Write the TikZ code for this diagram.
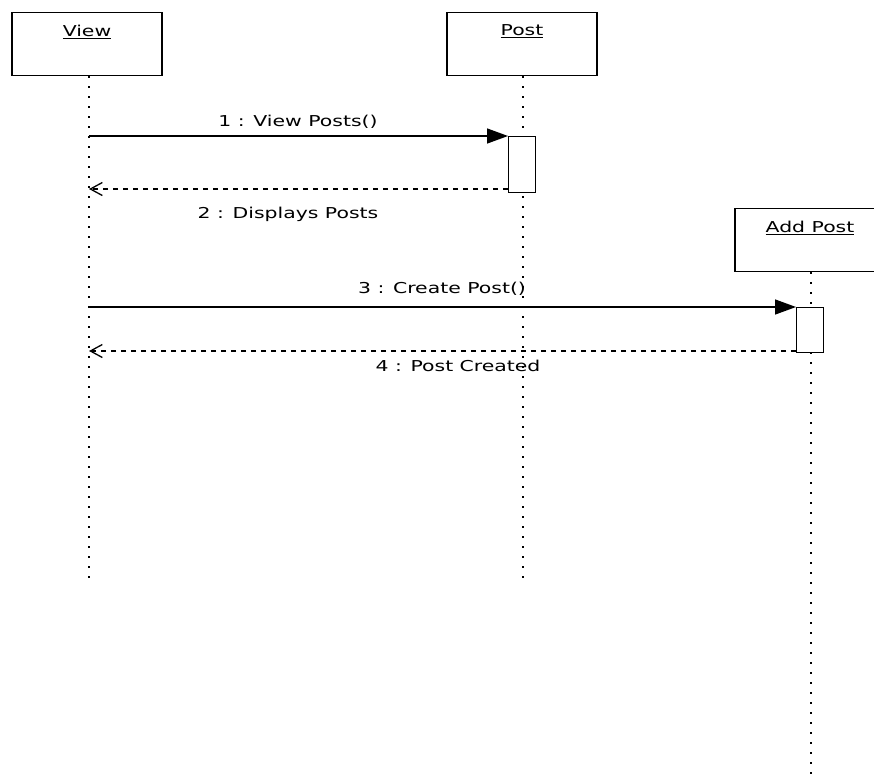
\documentclass[tikz,border=0pt]{standalone}
\usepackage{fontspec}
\newfontfamily\umlfont[FakeStretch=1.36]{DejaVu Sans}
\usetikzlibrary{arrows.meta}

\tikzset{
  objbox/.style={draw, line width=1.4pt, minimum width=150pt, minimum height=63pt, inner sep=0pt},
  objname/.style={font=\umlfont\fontsize{15}{16}\selectfont, inner sep=0pt, anchor=north, yshift=-13pt},
  lifeline/.style={line width=2pt, dash pattern=on 2pt off 8pt},
  actbox/.style={draw, fill=white, line width=1.4pt, minimum width=27pt, inner sep=0pt},
  callmsg/.style={line width=1.4pt, -{Triangle[length=21pt, width=15pt]}},
  replymsg/.style={line width=1.3pt, dash pattern=on 5pt off 5pt, -{Straight Barb[length=12pt, width=13pt, line width=1.3pt]}},
  msglabel/.style={font=\umlfont\fontsize{15}{16}\selectfont, inner sep=0pt}
}

\begin{document}
\begin{tikzpicture}[x=1pt, y=-1pt]
\clip (0,0) rectangle (874,776);
\fill[white] (0,0) rectangle (874,776);

% object boxes
\node[objbox, label={[objname]north:\underline{View}}] (view) at (87,44) {};
\node[objbox, label={[objname]north:\underline{Post}}] (post) at (522,44) {};
\node[objbox, label={[objname]north:\underline{Add Post}}] (addpost) at (810,240) {};

% lifeline ends
\coordinate (viewend) at (89,582);
\coordinate (postend) at (523,582);
\coordinate (addend) at (811,780);

\draw[lifeline] ([xshift=2pt]view.south) -- (viewend);
\draw[lifeline] ([xshift=1pt]post.south) -- (postend);
\draw[lifeline] ([xshift=1pt]addpost.south) -- (addend);

% activation bars
\node[actbox, minimum height=56pt, anchor=north west] (act1) at (508,136) {};
\node[actbox, minimum height=45pt, anchor=north west] (act2) at (796,307) {};

% sender points on the View lifeline
\coordinate (s1) at (89,136);
\coordinate (r2) at (89,189);
\coordinate (s3) at (89,307);
\coordinate (r4) at (89,351);

% messages
\draw[callmsg] (s1) -- (act1.north west);
\draw[replymsg] (act1.west |- r2) -- (r2);
\draw[callmsg] (s3) -- (act2.north west);
\draw[replymsg] (act2.west |- r4) -- (r4);

% message labels
\node[msglabel] (m1) at (298,122) {1 : View Posts()};
\node[msglabel] (m2) at (288,214) {2 : Displays Posts};
\node[msglabel] (m3) at (442,289) {3 : Create Post()};
\node[msglabel] (m4) at (458,366) {4 : Post Created};
\end{tikzpicture}
\end{document}
